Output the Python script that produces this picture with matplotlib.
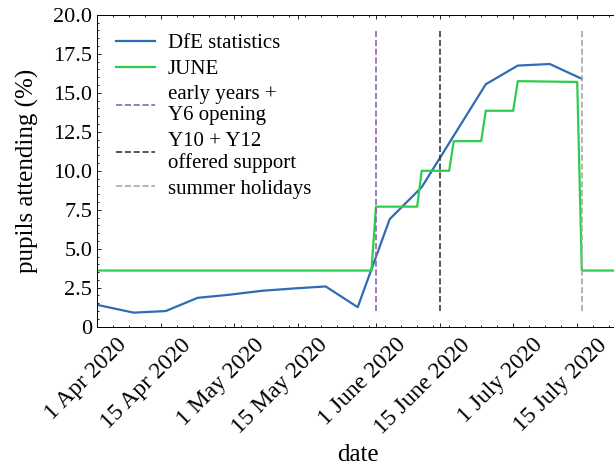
import datetime as dt
import matplotlib
matplotlib.use('Agg')
from matplotlib import pyplot as plt
from matplotlib.ticker import AutoMinorLocator, FuncFormatter, MultipleLocator
from matplotlib.transforms import ScaledTranslation

D = dt.date

# DfE attendance statistics (weekly)
dfe_dates = [D(2020, 4, 1), D(2020, 4, 9), D(2020, 4, 16), D(2020, 4, 23), D(2020, 4, 30),
             D(2020, 5, 7), D(2020, 5, 14), D(2020, 5, 21), D(2020, 5, 28), D(2020, 6, 4),
             D(2020, 6, 11), D(2020, 6, 18), D(2020, 6, 25), D(2020, 7, 2), D(2020, 7, 9),
             D(2020, 7, 16)]
dfe_values = [1.4, 0.9, 1.0, 1.85, 2.05, 2.3, 2.45, 2.58, 1.25, 6.9,
              8.95, 12.25, 15.55, 16.75, 16.85, 15.9]

# JUNE model attendance (step changes)
june_dates = [D(2020, 4, 1), D(2020, 5, 31), D(2020, 6, 1), D(2020, 6, 10), D(2020, 6, 11),
              D(2020, 6, 17), D(2020, 6, 18), D(2020, 6, 24), D(2020, 6, 25), D(2020, 7, 1),
              D(2020, 7, 2), D(2020, 7, 15), D(2020, 7, 16), D(2020, 7, 25)]
june_values = [3.6, 3.6, 7.7, 7.7, 10.0, 10.0, 11.9, 11.9, 13.85, 13.85,
               15.75, 15.7, 3.6, 3.6]

# policy events
event_dates = [D(2020, 6, 1), D(2020, 6, 15), D(2020, 7, 16)]
event_labels = ['early years +\nY6 opening', 'Y10 + Y12\noffered support', 'summer holidays']
event_colors = ['#8e63b3', '#3a3a3a', '#a8a8a8']

tick_dates = [D(2020, 4, 1), D(2020, 4, 15), D(2020, 5, 1), D(2020, 5, 15),
              D(2020, 6, 1), D(2020, 6, 15), D(2020, 7, 1), D(2020, 7, 15)]
tick_labels = ['1 Apr 2020', '15 Apr 2020', '1 May 2020', '15 May 2020',
               '1 June 2020', '15 June 2020', '1 July 2020', '15 July 2020']

plt.rcParams['font.family'] = 'serif'
plt.rcParams['font.serif'] = ['Liberation Serif', 'DejaVu Serif']
plt.rcParams['font.size'] = 16
plt.rcParams['xtick.direction'] = 'in'
plt.rcParams['ytick.direction'] = 'in'
plt.rcParams['xtick.top'] = True
plt.rcParams['ytick.right'] = True
plt.rcParams['xtick.major.size'] = 3
plt.rcParams['ytick.major.size'] = 3
plt.rcParams['xtick.minor.size'] = 1.5
plt.rcParams['ytick.minor.size'] = 1.5
plt.rcParams['xtick.major.width'] = 0.6
plt.rcParams['ytick.major.width'] = 0.6
plt.rcParams['xtick.minor.width'] = 0.6
plt.rcParams['ytick.minor.width'] = 0.6
plt.rcParams['axes.linewidth'] = 0.7

fig = plt.figure(figsize=(6.14, 4.66), dpi=100)
ax = fig.add_axes([0.158, 0.299, 0.851, 0.669])

ax.plot(dfe_dates, dfe_values, color='#2e6db4', lw=1.6, label='DfE statistics')
ax.plot(june_dates, june_values, color='#2fcb4f', lw=1.6, label='JUNE')
for d, lab, c in zip(event_dates, event_labels, event_colors):
    ax.axvline(d, ymin=0.05, ymax=0.95, color=c, ls='--', lw=1.2, label=lab)

ax.set_xlim(D(2020, 4, 1), dt.datetime(2020, 7, 24, 6))
ax.set_ylim(0, 20)
ax.set_xticks(tick_dates)
ax.set_xticklabels(tick_labels, rotation=45, ha='right', fontsize=17)
ax.xaxis.set_minor_locator(AutoMinorLocator())
ax.yaxis.set_major_locator(MultipleLocator(2.5))
ax.yaxis.set_minor_locator(AutoMinorLocator())
ax.yaxis.set_major_formatter(FuncFormatter(lambda v, p: '0' if v == 0 else f'{v:.1f}'))

offset = ScaledTranslation(0.34, -0.03, fig.dpi_scale_trans)
for lab in ax.get_xticklabels():
    lab.set_transform(lab.get_transform() + offset)

ax.set_xlabel('date', fontsize=18)
ax.set_ylabel('pupils attending (%)', fontsize=18, labelpad=10)
leg = ax.legend(loc='upper left', frameon=False, fontsize=15, labelspacing=0.3,
                handlelength=1.9, handletextpad=0.6)
for t in leg.get_texts():
    t.set_linespacing(1.15)

fig.savefig('out.png', dpi=100)
